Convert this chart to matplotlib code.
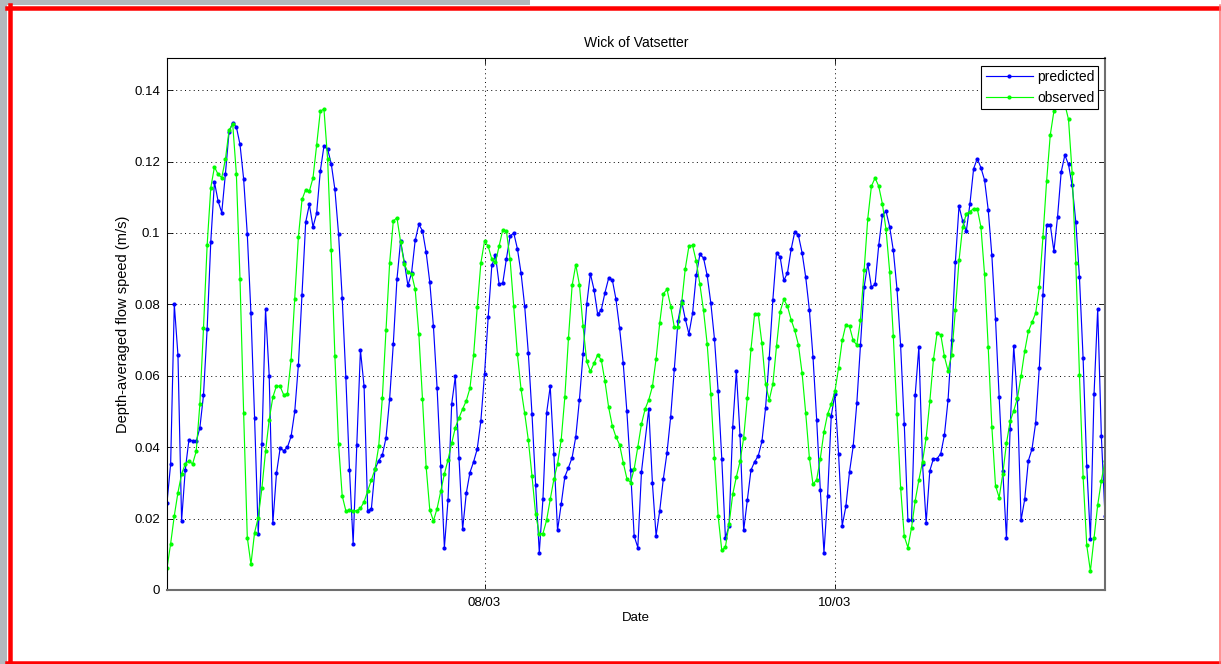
import numpy as np
import pandas as pd
import matplotlib
matplotlib.use("Agg")
import matplotlib.pyplot as plt
from matplotlib.patches import Rectangle
from matplotlib.lines import Line2D

plt.rcParams['font.family'] = ['Liberation Sans', 'DejaVu Sans']

# half-hourly samples, 06/03 04:30 to 11/03 13:00
start_time = '2011-03-06 04:30'
n_samples = 258
missing_pred = 131          # predicted series has no value at this sample
tick_dates = ['2011-03-08', '2011-03-10']
title = 'Wick of Vatsetter'

observed = [
    0.0061, 0.0130, 0.0208, 0.0273, 0.0325, 0.0353, 0.0362, 0.0353, 0.0388, 0.0520,
    0.0734, 0.0966, 0.1127, 0.1185, 0.1164, 0.1155, 0.1206, 0.1288, 0.1305, 0.1166,
    0.0872, 0.0495, 0.0147, 0.0072, 0.0161, 0.0203, 0.0285, 0.0388, 0.0477, 0.0540,
    0.0572, 0.0570, 0.0546, 0.0550, 0.0645, 0.0815, 0.0989, 0.1094, 0.1121, 0.1117,
    0.1154, 0.1246, 0.1341, 0.1347, 0.1208, 0.0951, 0.0655, 0.0409, 0.0264, 0.0222,
    0.0223, 0.0222, 0.0222, 0.0229, 0.0247, 0.0278, 0.0308, 0.0339, 0.0402, 0.0538,
    0.0727, 0.0916, 0.1033, 0.1043, 0.0975, 0.0914, 0.0890, 0.0886, 0.0842, 0.0717,
    0.0535, 0.0345, 0.0224, 0.0194, 0.0228, 0.0276, 0.0325, 0.0365, 0.0411, 0.0455,
    0.0482, 0.0507, 0.0530, 0.0565, 0.0657, 0.0792, 0.0916, 0.0977, 0.0963, 0.0926,
    0.0918, 0.0963, 0.1009, 0.1005, 0.0926, 0.0795, 0.0661, 0.0563, 0.0495, 0.0420,
    0.0320, 0.0212, 0.0158, 0.0158, 0.0195, 0.0254, 0.0310, 0.0353, 0.0420, 0.0540,
    0.0706, 0.0853, 0.0911, 0.0855, 0.0738, 0.0640, 0.0612, 0.0635, 0.0659, 0.0644,
    0.0584, 0.0512, 0.0460, 0.0429, 0.0407, 0.0357, 0.0312, 0.0301, 0.0339, 0.0401,
    0.0465, 0.0507, 0.0533, 0.0570, 0.0647, 0.0748, 0.0830, 0.0842, 0.0794, 0.0736,
    0.0736, 0.0803, 0.0900, 0.0963, 0.0965, 0.0921, 0.0856, 0.0783, 0.0689, 0.0549,
    0.0369, 0.0208, 0.0111, 0.0121, 0.0184, 0.0268, 0.0317, 0.0360, 0.0426, 0.0538,
    0.0675, 0.0773, 0.0773, 0.0691, 0.0577, 0.0532, 0.0577, 0.0683, 0.0780, 0.0814,
    0.0795, 0.0757, 0.0727, 0.0687, 0.0608, 0.0495, 0.0371, 0.0296, 0.0309, 0.0368,
    0.0443, 0.0493, 0.0521, 0.0556, 0.0622, 0.0699, 0.0743, 0.0738, 0.0699, 0.0686,
    0.0757, 0.0895, 0.1040, 0.1131, 0.1154, 0.1131, 0.1082, 0.1010, 0.0892, 0.0711,
    0.0493, 0.0287, 0.0150, 0.0119, 0.0175, 0.0250, 0.0308, 0.0359, 0.0426, 0.0528,
    0.0646, 0.0720, 0.0715, 0.0654, 0.0614, 0.0659, 0.0783, 0.0923, 0.1017, 0.1054,
    0.1060, 0.1068, 0.1068, 0.1017, 0.0884, 0.0680, 0.0457, 0.0292, 0.0259, 0.0326,
    0.0411, 0.0472, 0.0502, 0.0537, 0.0599, 0.0669, 0.0724, 0.0750, 0.0775, 0.0848,
    0.0989, 0.1145, 0.1274, 0.1341, 0.1370, 0.1380, 0.1360, 0.1318, 0.1168, 0.0916,
    0.0603, 0.0317, 0.0125, 0.0053, 0.0145, 0.0238, 0.0306, 0.0362,
]

predicted = [
    0.0245, 0.0353, 0.0800, 0.0658, 0.0194, 0.0336, 0.0420, 0.0418, 0.0416, 0.0454,
    0.0546, 0.0732, 0.0976, 0.1143, 0.1089, 0.1057, 0.1165, 0.1283, 0.1309, 0.1297,
    0.1248, 0.1151, 0.0996, 0.0775, 0.0481, 0.0156, 0.0410, 0.0787, 0.0600, 0.0187,
    0.0327, 0.0397, 0.0390, 0.0400, 0.0430, 0.0500, 0.0630, 0.0827, 0.1030, 0.1080,
    0.1017, 0.1055, 0.1173, 0.1243, 0.1235, 0.1194, 0.1122, 0.0998, 0.0818, 0.0596,
    0.0337, 0.0130, 0.0406, 0.0672, 0.0570, 0.0222, 0.0228, 0.0339, 0.0362, 0.0378,
    0.0426, 0.0535, 0.0689, 0.0870, 0.0977, 0.0920, 0.0853, 0.0887, 0.0979, 0.1024,
    0.1006, 0.0946, 0.0862, 0.0738, 0.0566, 0.0348, 0.0119, 0.0252, 0.0521, 0.0598,
    0.0371, 0.0170, 0.0271, 0.0329, 0.0359, 0.0395, 0.0474, 0.0605, 0.0764, 0.0909,
    0.0937, 0.0856, 0.0860, 0.0928, 0.0991, 0.1000, 0.0956, 0.0888, 0.0795, 0.0664,
    0.0493, 0.0294, 0.0105, 0.0254, 0.0495, 0.0570, 0.0382, 0.0167, 0.0240, 0.0317,
    0.0343, 0.0371, 0.0429, 0.0533, 0.0661, 0.0800, 0.0886, 0.0841, 0.0772, 0.0785,
    0.0833, 0.0873, 0.0869, 0.0815, 0.0734, 0.0635, 0.0500, 0.0337, 0.0151, 0.0119,
    0.0331, 0.0507, 0.0299, 0.0152, 0.0222, 0.0312, 0.0385, 0.0485, 0.0619,
    0.0753, 0.0809, 0.0759, 0.0717, 0.0775, 0.0881, 0.0940, 0.0930, 0.0881, 0.0804,
    0.0703, 0.0558, 0.0368, 0.0145, 0.0180, 0.0457, 0.0613, 0.0434, 0.0167, 0.0252,
    0.0336, 0.0359, 0.0376, 0.0416, 0.0510, 0.0650, 0.0813, 0.0945, 0.0932, 0.0867,
    0.0888, 0.0954, 0.1003, 0.0993, 0.0945, 0.0876, 0.0785, 0.0652, 0.0477, 0.0280,
    0.0105, 0.0264, 0.0488, 0.0549, 0.0381, 0.0180, 0.0234, 0.0331, 0.0402, 0.0523,
    0.0686, 0.0848, 0.0914, 0.0848, 0.0856, 0.0965, 0.1049, 0.1061, 0.1017, 0.0951,
    0.0844, 0.0685, 0.0465, 0.0195, 0.0196, 0.0547, 0.0680, 0.0354, 0.0189, 0.0334,
    0.0368, 0.0368, 0.0382, 0.0434, 0.0532, 0.0700, 0.0918, 0.1075, 0.1033, 0.1005,
    0.1082, 0.1180, 0.1208, 0.1183, 0.1148, 0.1065, 0.0937, 0.0759, 0.0540, 0.0332,
    0.0145, 0.0451, 0.0683, 0.0535, 0.0195, 0.0254, 0.0362, 0.0395, 0.0468, 0.0622,
    0.0827, 0.1021, 0.1023, 0.0949, 0.1045, 0.1171, 0.1218, 0.1192, 0.1133, 0.1031,
    0.0876, 0.0649, 0.0348, 0.0142, 0.0549, 0.0787, 0.0432, 0.0208,
]

t_obs = pd.date_range(start_time, periods=n_samples, freq='30min')
t_pred = t_obs.delete(missing_pred)

W, H = 1221, 664
fig = plt.figure(figsize=(W / 100, H / 100), dpi=100)
fig.patch.set_facecolor('white')

ax = fig.add_axes([167 / W, 74 / H, 938 / W, 532 / H])
ax.plot(t_pred, predicted, '-', color='#0000ff', lw=0.85, marker='.', ms=4,
        label='predicted')
ax.plot(t_obs, observed, '-', color='#00ff00', lw=0.85, marker='.', ms=4,
        label='observed')

ax.set_xlim(t_obs[0], t_obs[-1])
ax.set_ylim(0, 0.149)

yt = np.round(np.arange(0, 0.141, 0.02), 2)
ax.set_yticks(yt)
ax.set_yticklabels([f'{v:g}' for v in yt])
xt = pd.to_datetime(tick_dates)
ax.set_xticks(xt)
ax.set_xticklabels([d.strftime('%d/%m') for d in xt])

ax.grid(True, color='black', lw=0.7, linestyle=(0, (1, 3.5)))
ax.tick_params(direction='in', length=4, width=0.6, top=True, right=True,
               labelsize=9.5, pad=5)
for side in ['top', 'left']:
    ax.spines[side].set_color('black')
    ax.spines[side].set_linewidth(0.8)
for side in ['bottom', 'right']:
    ax.spines[side].set_color('#6e6e6e')
    ax.spines[side].set_linewidth(1.5)

ax.set_title(title, fontsize=10, pad=8)
ax.set_xlabel('Date', fontsize=9.5, labelpad=2)
ax.set_ylabel('Depth-averaged flow speed (m/s)', fontsize=10.5, labelpad=3)

leg = ax.legend(loc='upper right', bbox_to_anchor=(0.993, 0.985), fontsize=10,
                fancybox=False, framealpha=1, edgecolor='black',
                borderaxespad=0, borderpad=0.3, labelspacing=0.5,
                handlelength=3.4, handletextpad=0.3)
leg.get_frame().set_linewidth(0.8)

# window frame around the figure
fig.add_artist(Rectangle((0, 1 - 5 / H), 530 / W, 5 / H, transform=fig.transFigure,
                         facecolor='#b4b8bd', edgecolor='none', zorder=0))
fig.add_artist(Rectangle((0, 0), 7 / W, 1, transform=fig.transFigure,
                         facecolor='#b4b8bd', edgecolor='none', zorder=0))
px = 0.72
fig.add_artist(Line2D([9.5 / W, 9.5 / W], [0, 1 - 5 / H], transform=fig.transFigure,
                      color='#ff0000', lw=4.5 * px))
fig.add_artist(Line2D([7 / W, 1], [1 - 7.5 / H, 1 - 7.5 / H], transform=fig.transFigure,
                      color='#ff0000', lw=4.5 * px))
fig.add_artist(Line2D([7 / W, 1], [1.5 / H, 1.5 / H], transform=fig.transFigure,
                      color='#ff0000', lw=3.5 * px))
fig.add_artist(Line2D([1219.8 / W, 1219.8 / W], [0, 1 - 5 / H], transform=fig.transFigure,
                      color='#ff7070', lw=1.5 * px))

fig.savefig('out.png', dpi=100)
